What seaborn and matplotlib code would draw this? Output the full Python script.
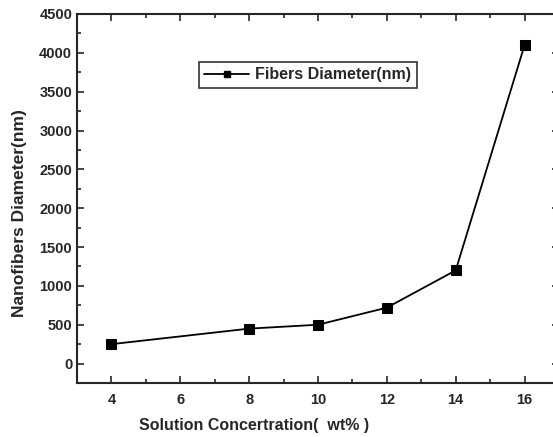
import matplotlib
matplotlib.use("Agg")
import matplotlib.pyplot as plt
import seaborn as sns
import pandas as pd
from matplotlib.ticker import MultipleLocator
from matplotlib.lines import Line2D

concentration = [4, 8, 10, 12, 14, 16]
diameter = [250, 450, 500, 720, 1200, 4100]
series_name = "Fibers Diameter(nm)"

df = pd.DataFrame({"x": concentration, "y": diameter, "s": series_name})

sns.set_style("ticks")
plt.rcParams["font.family"] = ["Liberation Sans", "DejaVu Sans"]
plt.rcParams["font.weight"] = "bold"

fig = plt.figure(figsize=(5.53, 4.37), dpi=100)
ax = fig.add_axes([77/553, 1-383/437, (559-77)/553, (383-14)/437])

sns.lineplot(data=df, x="x", y="y", hue="s", palette=["black"], marker="s",
             markersize=7, linewidth=1.3, markeredgecolor="black", ax=ax, legend=False)

ax.set_xlim(3, 17)
ax.set_ylim(-250, 4500)
ax.xaxis.set_major_locator(MultipleLocator(2))
ax.xaxis.set_minor_locator(MultipleLocator(1))
ax.yaxis.set_major_locator(MultipleLocator(500))
ax.yaxis.set_minor_locator(MultipleLocator(250))
ax.tick_params(which="both", direction="in", top=True, right=True, labelsize=10.5, width=1.2)
ax.tick_params(which="major", length=5)
ax.tick_params(which="minor", length=3)
ax.tick_params(axis="x", pad=7)
for lab in ax.get_xticklabels() + ax.get_yticklabels():
    lab.set_fontweight("bold")
for sp in ax.spines.values():
    sp.set_linewidth(1.5)

ax.set_xlabel("Solution Concertration(  wt% )", fontsize=11.5, fontweight="bold")
ax.xaxis.set_label_coords((254-77)/482, -0.095)
ax.set_ylabel("Nanofibers Diameter(nm)", fontsize=12.5, fontweight="bold")
ax.yaxis.set_label_coords(-0.104, 0.46)

handle = Line2D([], [], color="black", linewidth=1.3, marker="s", markersize=4.5)
leg = ax.legend([handle], [series_name], loc="center", bbox_to_anchor=(0.479, 0.835),
                frameon=True, fancybox=False, edgecolor="black", fontsize=11.5,
                handlelength=2.8, borderpad=0.35, handletextpad=0.4)
leg.get_frame().set_linewidth(1.2)
for t in leg.get_texts():
    t.set_fontweight("bold")

fig.savefig("out.png", dpi=100)
